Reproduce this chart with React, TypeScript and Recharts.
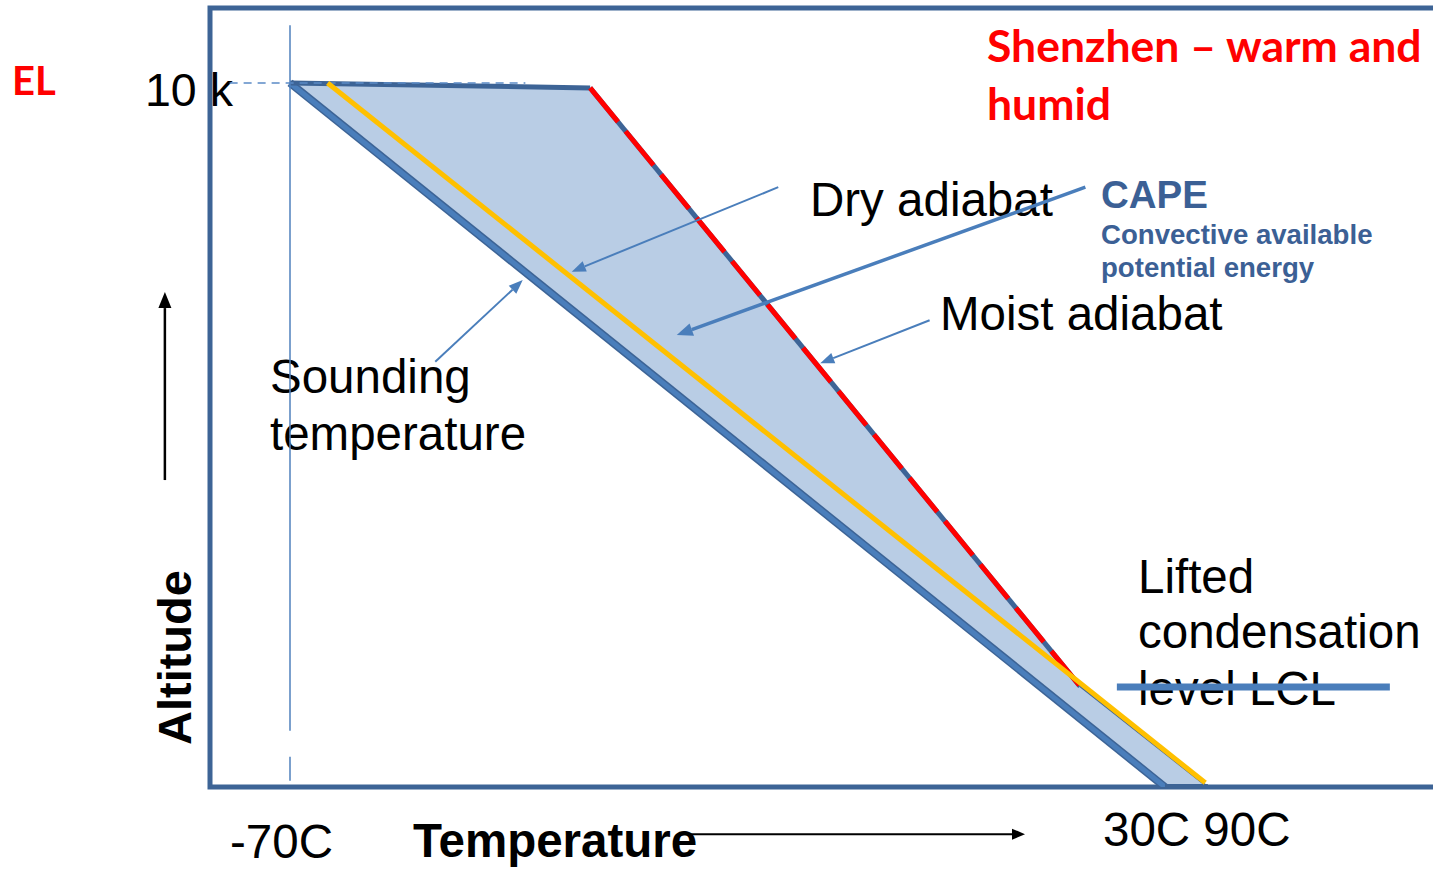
import React from 'react';
import {
  ComposedChart,
  Line,
  Area,
  XAxis,
  YAxis,
  ReferenceLine,
  ReferenceArea,
  Customized,
} from 'recharts';

// temperature (schematic units) and altitude (km)
const soundingT = [-70, 30];
const soundingAlt = [10, 0];

const topEdgeT = [-70, -35.7];
const topEdgeAlt = [10, 9.93];

const moistT = [-35.7, 20.3];
const moistAlt = [9.93, 1.43];

const belowLclT = [20.3, 34.9];
const belowLclAlt = [1.43, 0];

const baseT = [30, 34.9];
const baseAlt = [0, 0];

const dryT = [-65.7, 34.6];
const dryAlt = [10, 0.06];

const elGuideT = [-76.9, -43.1];
const elGuideAlt = [10, 10];

// CAPE band: sounding (low) to parcel (high) at each temperature
const capeT = [-70, -35.7, 20.3, 30, 34.9];
const capeLow = [10, 6.57, 0.97, 0, 0];
const capeHigh = [10, 9.93, 1.43, 0.48, 0];

const toRows = (t: number[], alt: number[]) => t.map((v, i) => ({ t: v, alt: alt[i] }));
const capeRows = capeT.map((v, i) => ({ t: v, band: [capeLow[i], capeHigh[i]] }));

const BLUE = '#4a7ebb';
const DARK = '#3d6496';
const ARIAL = '"Liberation Sans", Arial, sans-serif';

const Arrow = (props: any) => {
  const { x1, y1, x2, y2, stroke, strokeWidth, head = 13, wide = 10 } = props;
  const a = Math.atan2(y2 - y1, x2 - x1);
  const bx = x2 - head * Math.cos(a);
  const by = y2 - head * Math.sin(a);
  const nx = -Math.sin(a) * (wide / 2);
  const ny = Math.cos(a) * (wide / 2);
  return (
    <g>
      <line x1={x1} y1={y1} x2={bx} y2={by} stroke={stroke} strokeWidth={strokeWidth} />
      <polygon points={`${x2},${y2} ${bx + nx},${by + ny} ${bx - nx},${by - ny}`} fill={stroke} />
    </g>
  );
};

const Texts = () => (
  <g fontFamily={ARIAL} fontSize={47.5} fill="#000">
    <text x={12} y={95} fill="#ff0000" fontFamily="Lato, sans-serif" fontWeight={700} fontSize={40}>EL</text>
    <text x={145} y={106} fontSize={46.5}>10 k</text>
    <g fill="#ff0000" fontFamily="Lato, sans-serif" fontWeight={700} fontSize={44.5}>
      <text x={987} y={62}>Shenzhen – warm and</text>
      <text x={987} y={120}>humid</text>
    </g>
    <text x={810} y={216}>Dry adiabat</text>
    <g fill="#3b6095" fontWeight={700}>
      <text x={1101} y={208} fontSize={38.5}>CAPE</text>
      <text x={1101} y={244} fontSize={27.6}>Convective available</text>
      <text x={1101} y={277} fontSize={27.6}>potential energy</text>
    </g>
    <text x={940} y={330}>Moist adiabat</text>
    <text x={270} y={393}>Sounding</text>
    <text x={270} y={450}>temperature</text>
    <text x={1138} y={593}>Lifted</text>
    <text x={1138} y={648}>condensation</text>
    <text x={1138} y={705}>level LCL</text>
    <text x={230} y={858}>-70C</text>
    <text x={1103} y={846}>30C 90C</text>
    <text x={413} y={857} fontWeight={700}>Temperature</text>
    <text x={191} y={745} fontWeight={700} fontSize={47} transform="rotate(-90 191 745)">Altitude</text>
  </g>
);

export default function App() {
  return (
    <div style={{ position: 'absolute', left: 0, top: 0, width: 1433, height: 869, overflow: 'hidden', background: '#fff' }}>
      <ComposedChart width={1445} height={869} margin={{ top: 8, right: 5, bottom: 82, left: 210 }}>
        <XAxis type="number" dataKey="t" domain={[-79.143, 61.43]} allowDataOverflow hide />
        <YAxis type="number" domain={[0, 11.065]} allowDataOverflow hide />

        <Area data={capeRows} dataKey="band" type="linear" fill="#b9cde5" fillOpacity={1} stroke="none" isAnimationActive={false} />

        <Line data={toRows(soundingT, soundingAlt)} dataKey="alt" type="linear" stroke={DARK} strokeWidth={8} dot={false} isAnimationActive={false} />
        <Line data={toRows(soundingT, soundingAlt)} dataKey="alt" type="linear" stroke={BLUE} strokeWidth={5} dot={false} isAnimationActive={false} />
        <Line data={toRows(topEdgeT, topEdgeAlt)} dataKey="alt" type="linear" stroke={DARK} strokeWidth={5} dot={false} isAnimationActive={false} />
        <Line data={toRows(elGuideT, elGuideAlt)} dataKey="alt" type="linear" stroke="#5b8ac6" strokeWidth={1.5} strokeDasharray="8 6" dot={false} isAnimationActive={false} />
        <Line data={toRows(belowLclT, belowLclAlt)} dataKey="alt" type="linear" stroke={DARK} strokeWidth={2} dot={false} isAnimationActive={false} />
        <Line data={toRows(baseT, baseAlt)} dataKey="alt" type="linear" stroke={DARK} strokeWidth={6} dot={false} isAnimationActive={false} />
        <Line data={toRows(moistT, moistAlt)} dataKey="alt" type="linear" stroke={DARK} strokeWidth={5} dot={false} isAnimationActive={false} />
        <Line data={toRows(moistT, moistAlt)} dataKey="alt" type="linear" stroke="#ff0000" strokeWidth={5} strokeDasharray="44 12" dot={false} isAnimationActive={false} />
        <Line data={toRows(dryT, dryAlt)} dataKey="alt" type="linear" stroke="#ffc000" strokeWidth={5} dot={false} isAnimationActive={false} />

        <ReferenceArea x1={-79.143} x2={61.43} y1={0} y2={11.065} fill="none" stroke={DARK} strokeWidth={5} ifOverflow="visible" />

        <ReferenceLine segment={[{ x: -70, y: 10.82 }, { x: -70, y: 0.8 }]} stroke="#4f81bd" strokeWidth={1.5} ifOverflow="visible" />
        <ReferenceLine segment={[{ x: -70, y: 0.43 }, { x: -70, y: 0.09 }]} stroke="#4f81bd" strokeWidth={1.5} ifOverflow="visible" />
        <ReferenceLine segment={[{ x: 24.5, y: 1.42 }, { x: 55.7, y: 1.42 }]} stroke={BLUE} strokeWidth={7} ifOverflow="visible" />

        <ReferenceLine segment={[{ x: -14.2, y: 8.52 }, { x: -37.8, y: 7.32 }]} stroke={BLUE} strokeWidth={2} ifOverflow="visible" shape={(p: any) => <Arrow {...p} head={14} wide={11} />} />
        <ReferenceLine segment={[{ x: 20.9, y: 8.52 }, { x: -25.8, y: 6.42 }]} stroke={BLUE} strokeWidth={3.5} ifOverflow="visible" shape={(p: any) => <Arrow {...p} head={16} wide={13} />} />
        <ReferenceLine segment={[{ x: 3.1, y: 6.63 }, { x: -9.4, y: 6.02 }]} stroke={BLUE} strokeWidth={2} ifOverflow="visible" shape={(p: any) => <Arrow {...p} head={14} wide={11} />} />
        <ReferenceLine segment={[{ x: -53.4, y: 6.04 }, { x: -43.4, y: 7.2 }]} stroke={BLUE} strokeWidth={2} ifOverflow="visible" shape={(p: any) => <Arrow {...p} head={14} wide={11} />} />
        <ReferenceLine segment={[{ x: -84.3, y: 4.36 }, { x: -84.3, y: 7.03 }]} stroke="#000" strokeWidth={2.5} ifOverflow="visible" shape={(p: any) => <Arrow {...p} head={16} wide={13} />} />
        <ReferenceLine segment={[{ x: -25.4, y: -0.67 }, { x: 14.0, y: -0.67 }]} stroke="#000" strokeWidth={2} ifOverflow="visible" shape={(p: any) => <Arrow {...p} head={13} wide={11} />} />

        <Customized component={<Texts />} />
      </ComposedChart>
    </div>
  );
}
